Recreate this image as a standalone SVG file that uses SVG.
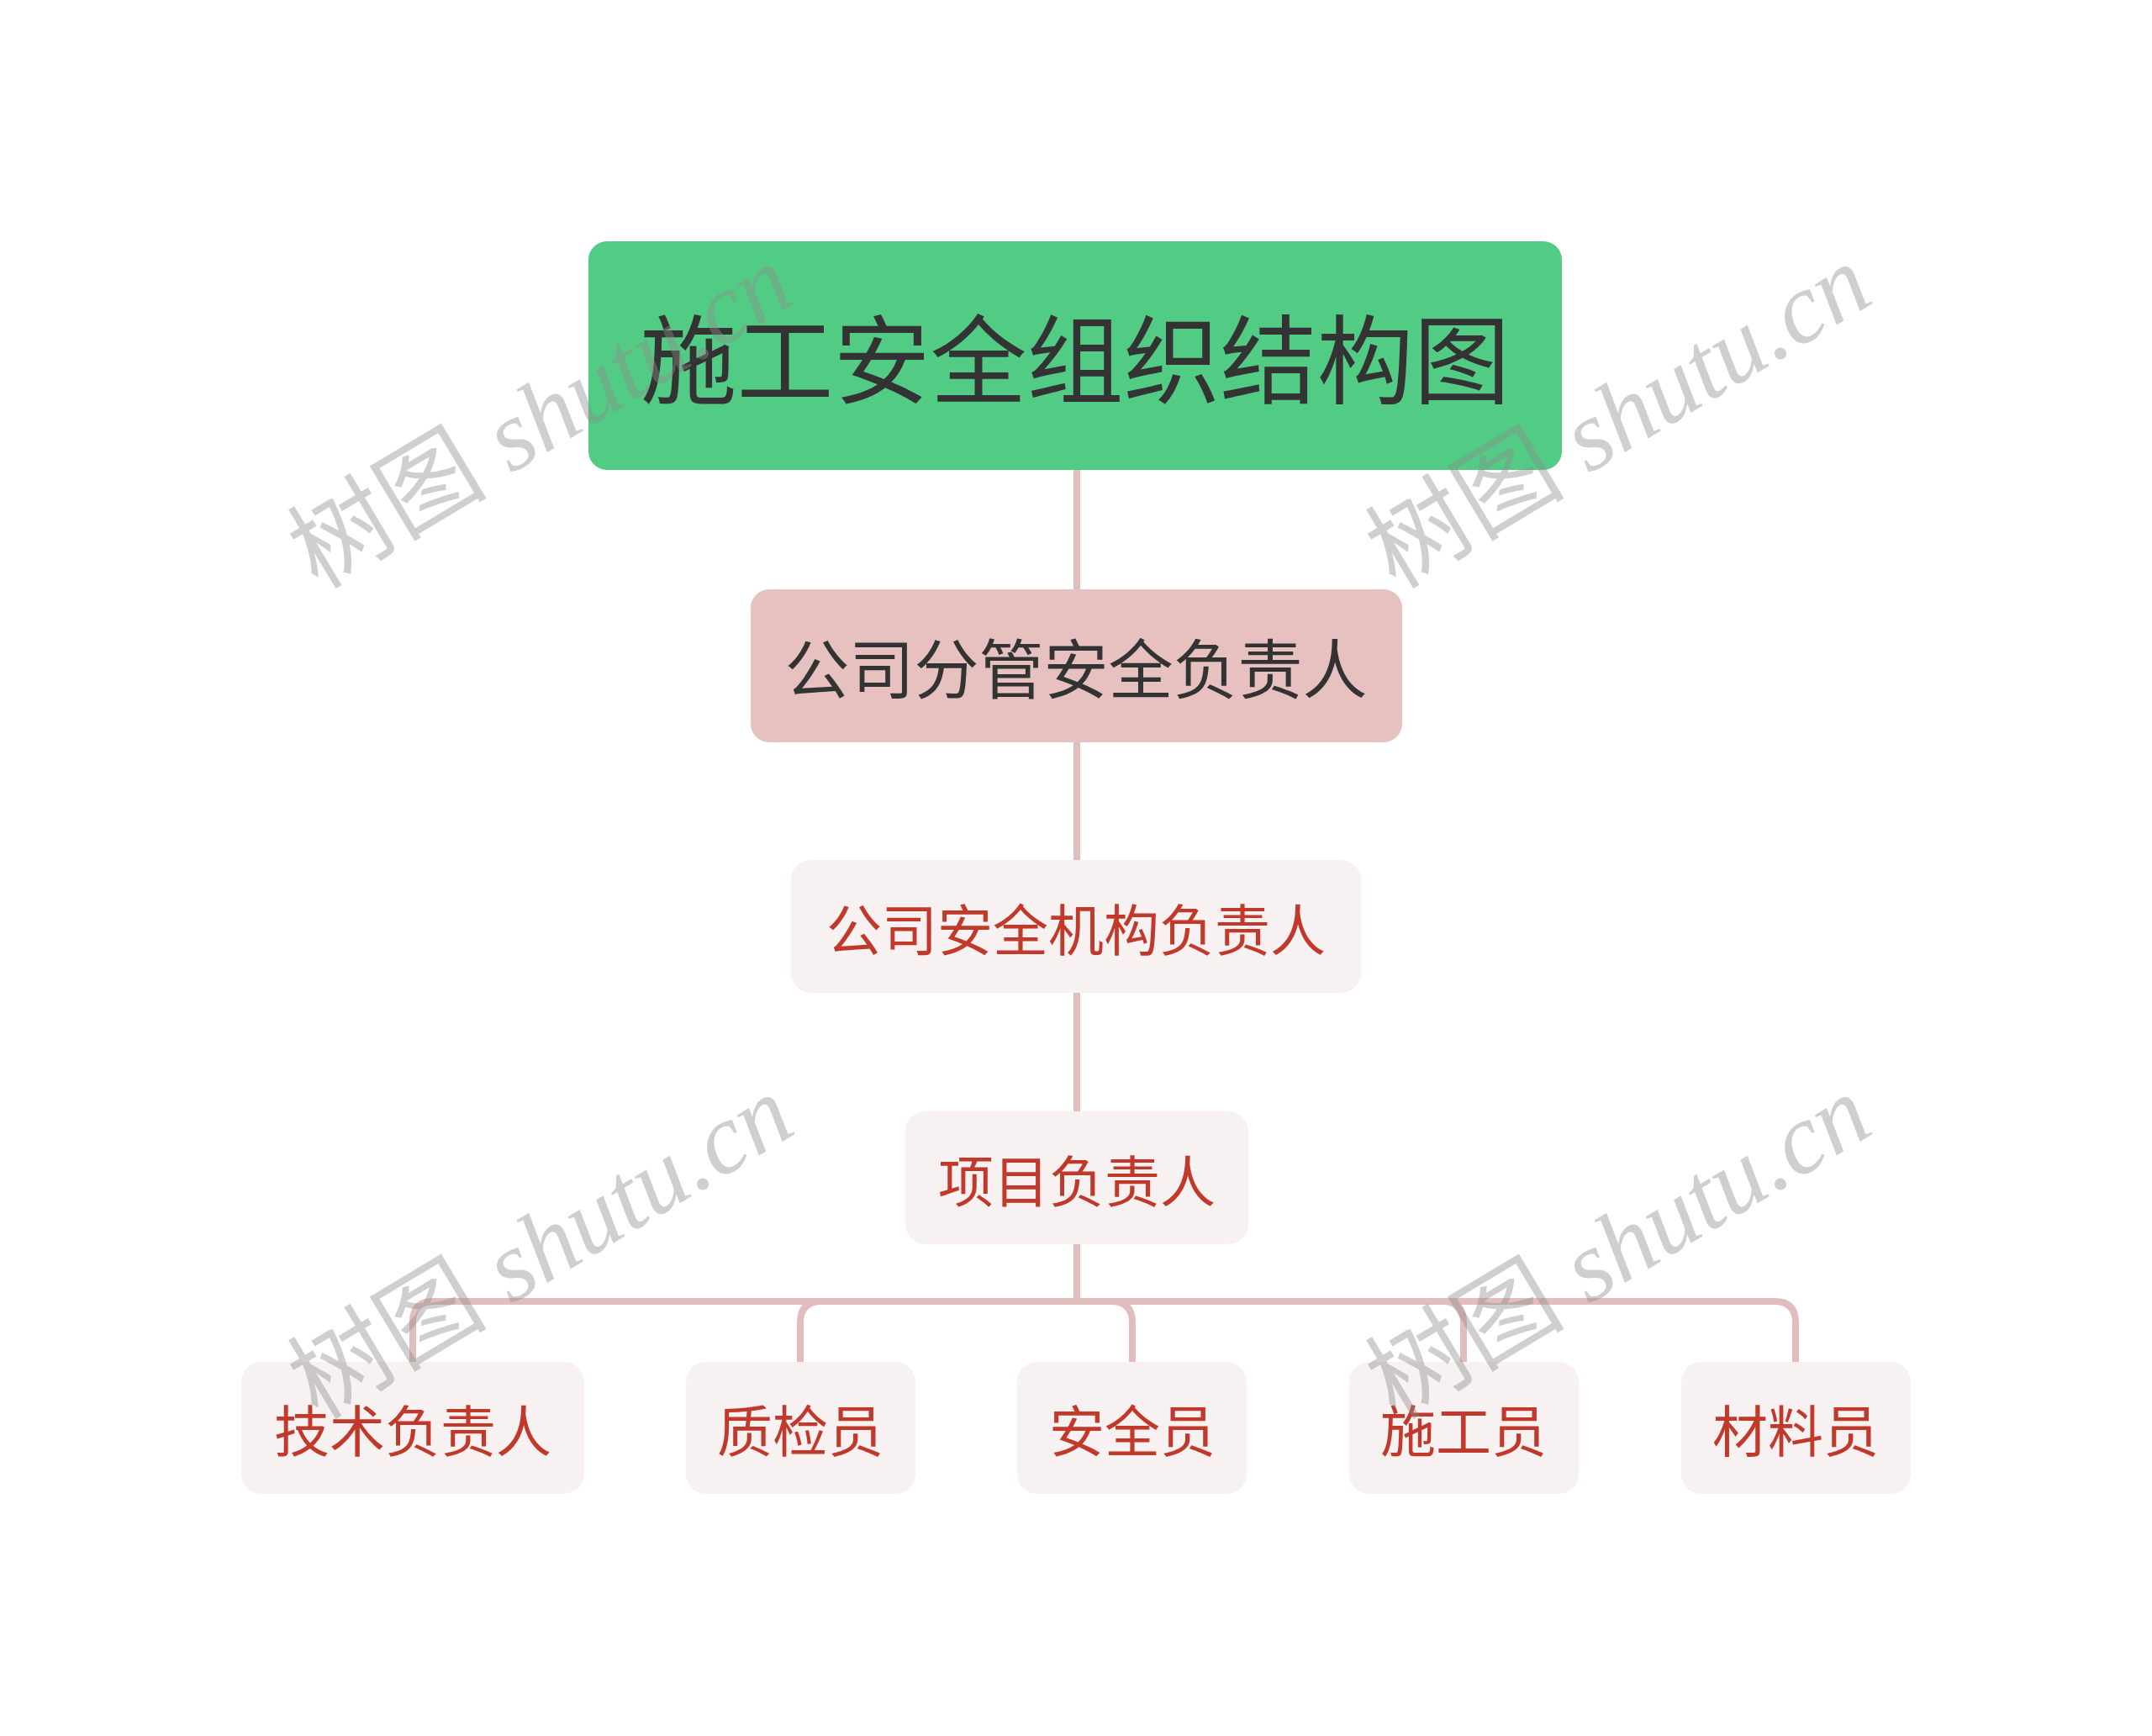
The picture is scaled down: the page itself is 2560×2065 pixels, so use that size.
<svg xmlns="http://www.w3.org/2000/svg" width="2560" height="2065" viewBox="0 0 2560 2065">
<style>
.conn{fill:none;stroke:#e2bdbd;stroke-width:8;}
.t{font-family:"Noto Sans CJK SC","Noto Sans",sans-serif;text-anchor:middle;dominant-baseline:central;}
.leaf rect{fill:#f8f1f1;}
.leaf text{fill:#c0392b;font-size:66px;}
.wm{font-family:"Liberation Serif","Noto Sans CJK SC",serif;font-size:119px;fill:#8c8c8c;fill-opacity:0.42;}
</style>
<rect width="2560" height="2065" fill="#ffffff"/>
<g id="connectors">
<path class="conn" d="M1281 559 V702"/>
<path class="conn" d="M1281 882 V1024"/>
<path class="conn" d="M1281 1180 V1323"/>
<path class="conn" d="M1281 1478 V1548 H516 Q491 1548 491 1573 V1621"/>
<path class="conn" d="M1281 1548 H977 Q952 1548 952 1573 V1621"/>
<path class="conn" d="M1281 1548 H1322 Q1347 1548 1347 1573 V1621"/>
<path class="conn" d="M1281 1548 H1716 Q1741 1548 1741 1573 V1621"/>
<path class="conn" d="M1281 1548 H2111 Q2136 1548 2136 1573 V1621"/>
</g>
<g id="root">
<rect x="700" y="287" width="1158" height="272" rx="22" fill="#52cc84"/>
<text class="t" x="1279" y="421" font-size="115" fill="#333333">施工安全组织结构图</text>
</g>
<g id="n1">
<rect x="893" y="701" width="775" height="182" rx="22" fill="#e6c1c0"/>
<text class="t" x="1280" y="791" font-size="77" fill="#333333">公司分管安全负责人</text>
</g>
<g id="n2" class="leaf">
<rect x="941" y="1023" width="678" height="158" rx="24"/>
<text class="t" x="1280" y="1102">公司安全机构负责人</text>
</g>
<g id="n3" class="leaf">
<rect x="1077" y="1322" width="408" height="158" rx="24"/>
<text class="t" x="1281" y="1401">项目负责人</text>
</g>
<g id="n4" class="leaf">
<rect x="287" y="1620" width="408" height="157" rx="24"/>
<text class="t" x="491" y="1698">技术负责人</text>
</g>
<g id="n5" class="leaf">
<rect x="816" y="1620" width="273" height="157" rx="24"/>
<text class="t" x="952" y="1698">质检员</text>
</g>
<g id="n6" class="leaf">
<rect x="1210" y="1620" width="273" height="157" rx="24"/>
<text class="t" x="1347" y="1698">安全员</text>
</g>
<g id="n7" class="leaf">
<rect x="1605" y="1620" width="273" height="157" rx="24"/>
<text class="t" x="1741" y="1698">施工员</text>
</g>
<g id="n8" class="leaf">
<rect x="2000" y="1620" width="273" height="157" rx="24"/>
<text class="t" x="2136" y="1698">材料员</text>
</g>
<g id="watermarks">
<text class="wm" transform="translate(378 702) rotate(-31)">树图 <tspan font-style="italic">shutu.cn</tspan></text>
<text class="wm" transform="translate(1660 702) rotate(-31)">树图 <tspan font-style="italic">shutu.cn</tspan></text>
<text class="wm" transform="translate(378 1690) rotate(-31)">树图 <tspan font-style="italic">shutu.cn</tspan></text>
<text class="wm" transform="translate(1660 1690) rotate(-31)">树图 <tspan font-style="italic">shutu.cn</tspan></text>
</g>
</svg>
